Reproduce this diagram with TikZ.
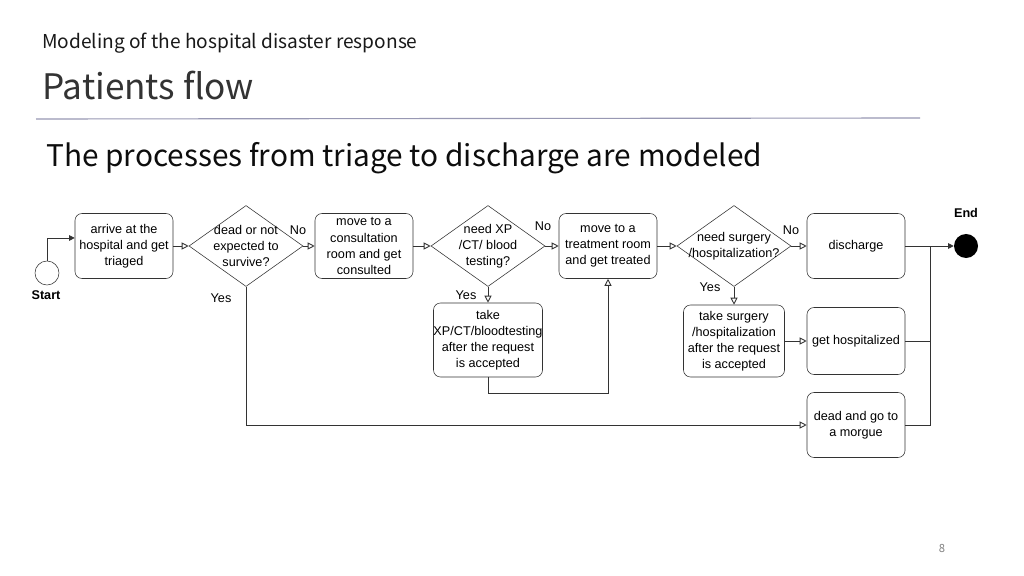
\documentclass[tikz,border=0pt]{standalone}
\usepackage{fontspec}
\setmainfont{Liberation Sans}
\newfontfamily\headfont{Noto Sans CJK JP}
\usetikzlibrary{shapes.geometric,arrows.meta}
\tikzset{>={Triangle[open,length=5pt,width=5pt]}}
\colorlet{linegray}{black!80}
\colorlet{rulecol}{blue!15!gray!70}
\newcommand{\boxfont}{\fontsize{9}{11.4}\selectfont}

\tikzset{
  stepbox/.style={draw=linegray, rounded corners=5pt, minimum width=2.45cm,
                  minimum height=1.625cm, align=center, font=\boxfont, inner sep=1pt},
  decision/.style={draw=linegray, diamond, minimum width=2.85cm,
                   minimum height=2.025cm, inner sep=0pt},
  flow/.style={->, draw=linegray, line width=0.6pt},
  tag/.style={font=\boxfont},
}

\begin{document}
\begin{tikzpicture}[x=0.025cm, y=-0.025cm]
  \useasboundingbox[fill=white] (0,0) rectangle (1024,576);

  % header
  \node[anchor=base west, font=\headfont\fontsize{13.6}{16}\selectfont, text=black!90, inner sep=0pt]
    (topic) at (42,49) {Modeling of the hospital disaster response};
  \node[anchor=base west, font=\headfont\fontsize{25}{29}\selectfont, text=black!80, inner sep=0pt]
    (title) at (42,100) {Patients flow};
  \draw[rulecol, line width=0.8pt] (36,119) -- (920,118);
  \node[anchor=base west, font=\headfont\fontsize{21.2}{25}\selectfont, text=black!95, inner sep=0pt]
    (lead) at (46,167) {The processes from triage to discharge are modeled};
  \node[font=\headfont\fontsize{8}{10}\selectfont, text=black!50] (page) at (942,548) {8};

  % start / end
  \node[draw=linegray, circle, minimum size=0.6cm, inner sep=0pt] (start) at (47,273) {};
  \node[font=\boxfont\bfseries] (startlbl) at (46,295) {Start};
  \node[fill=black, circle, minimum size=0.6cm, inner sep=0pt] (end) at (966,246) {};
  \node[font=\boxfont\bfseries] (endlbl) at (966,213) {End};

  % main row
  \node[stepbox] (arrive) at (124,246) {arrive at the\\hospital and get\\triaged};
  \node[decision, label={[tag,align=center]center:{dead or not\\expected to\\survive?}}]
    (surv) at (246,246) {};
  \node[stepbox] (consult) at (364,246) {move to a\\consultation\\room and get\\consulted};
  \node[decision, label={[tag,align=center]center:{need XP\\/CT/ blood\\testing?}}]
    (test) at (488,246) {};
  \node[stepbox] (treat) at (608,246) {move to a\\treatment room\\and get treated};
  \node[decision, label={[tag,align=center]center:{need surgery\\/hospitalization?}}]
    (surg) at (734,246) {};
  \node[stepbox] (discharge) at (856,246) {discharge};

  % lower boxes
  \node[stepbox, minimum width=2.65cm, minimum height=1.85cm, inner sep=0pt] (takexp) at (488,340)
    {take\\XP/CT/bloodtesting\\after the request\\is accepted};
  \node[stepbox, minimum width=2.525cm, minimum height=1.8cm, inner sep=0pt] (takesurg) at (734,341)
    {take surgery\\/hospitalization\\after the request\\is accepted};
  \node[stepbox, minimum height=1.675cm, inner sep=0pt] (hosp) at (856,341) {get hospitalized};
  \node[stepbox] (morgue) at (856,425) {dead and go to\\a morgue};

  % labels
  \node[tag] (no1) at (298,230) {No};
  \node[tag] (yes1) at (221,298) {Yes};
  \node[tag] (no2) at (543,226) {No};
  \node[tag] (yes2) at (466,295) {Yes};
  \node[tag] (no3) at (791,230) {No};
  \node[tag] (yes3) at (710,287) {Yes};

  % connectors
  \draw[flow, -{Triangle[length=4pt,width=4pt]}] (start.north) |- ([yshift=5.7pt]arrive.west);
  \draw[flow] (arrive) -- (surv);
  \draw[flow] (surv) -- (consult);
  \draw[flow] (consult) -- (test);
  \draw[flow] (test) -- (treat);
  \draw[flow] (test) -- (takexp);
  \draw[flow] (takexp.south) -- ++(0,16) -| (treat.south);
  \draw[flow] (treat) -- (surg);
  \draw[flow] (surg) -- (discharge);
  \draw[flow] (surg) -- (takesurg);
  \draw[flow] (takesurg) -- (hosp);
  \draw[flow] (surv.south) |- (morgue.west);

  \coordinate (merge) at (930,246);
  \draw[linegray, line width=0.6pt] (discharge) -- (merge);
  \draw[flow, -{Triangle[length=4pt,width=4pt]}] (merge) -- (end);
  \draw[linegray, line width=0.6pt] (hosp.east) -- (hosp.east -| merge);
  \draw[linegray, line width=0.6pt] (morgue.east) -| (merge);
\end{tikzpicture}
\end{document}
